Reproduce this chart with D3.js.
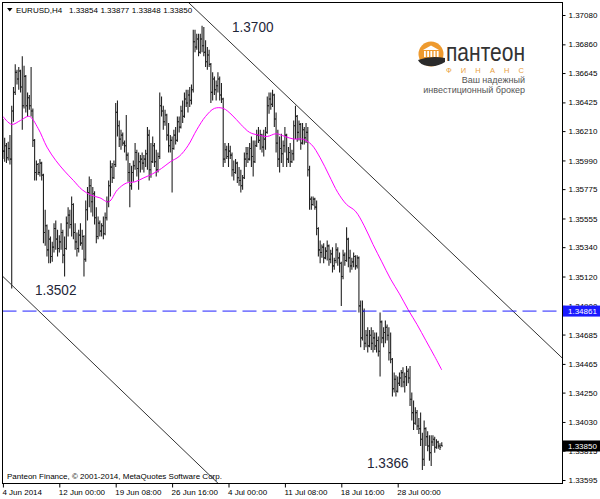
<!DOCTYPE html>
<html><head><meta charset="utf-8">
<script src="https://cdn.jsdelivr.net/npm/d3@7"></script>
<style>
body{margin:0;background:#fff}
svg{display:block}
text{font-family:"Liberation Sans",Arial,sans-serif}
</style>
</head><body>
<svg id="chart" width="600" height="499"></svg>
<script>
// ---- DATA ----
const symbolTitle = "EURUSD,H4";
const lastQuote = ["1.33854","1.33877","1.33848","1.33850"];
const open = [
1.3620,1.3606,1.3610,1.3601,1.3608,1.3600,1.3636,1.3650,1.3665,1.3660,
1.3666,1.3654,1.3640,1.3662,1.3640,1.3646,1.3640,1.3636,1.3614,1.3590,
1.3596,1.3590,1.3597,1.3588,1.3545,1.3550,1.3532,1.3540,1.3527,1.3534,
1.3548,1.3540,1.3533,1.3538,1.3545,1.3528,1.3533,1.3552,1.3558,1.3551,
1.3566,1.3545,1.3538,1.3533,1.3543,1.3537,1.3542,1.3525,1.3562,1.3575,
1.3580,1.3568,1.3574,1.3556,1.3542,1.3552,1.3546,1.3550,1.3544,1.3556,
1.3568,1.3580,1.3594,1.3586,1.3596,1.3635,1.3625,1.3615,1.3618,1.3612,
1.3610,1.3603,1.3590,1.3580,1.3590,1.3595,1.3605,1.3593,1.3598,1.3600,
1.3597,1.3600,1.3604,1.3618,1.3592,1.3598,1.3610,1.3598,1.3592,1.3602,
1.3640,1.3636,1.3628,1.3633,1.3618,1.3610,1.3614,1.3608,1.3618,1.3614,
1.3628,1.3624,1.3636,1.3632,1.3645,1.3642,1.3648,1.3644,1.3652,1.3688,
1.3684,1.3690,1.3680,1.3690,1.3685,1.3680,1.3673,1.3678,1.3671,1.3650,
1.3660,1.3652,1.3655,1.3660,1.3648,1.3645,1.3600,1.3607,1.3602,1.3606,
1.3603,1.3592,1.3590,1.3597,1.3586,1.3584,1.3580,1.3586,1.3600,1.3604,
1.3600,1.3608,1.3602,1.3598,1.3610,1.3618,1.3614,1.3618,1.3609,1.3615,
1.3620,1.3640,1.3645,1.3641,1.3648,1.3630,1.3612,1.3600,1.3608,1.3604,
1.3610,1.3618,1.3600,1.3605,1.3598,1.3604,1.3625,1.3632,1.3620,1.3626,
1.3612,1.3622,1.3616,1.3620,1.3592,1.3570,1.3566,1.3570,1.3564,1.3548,
1.3532,1.3530,1.3534,1.3526,1.3531,1.3535,1.3525,1.3529,1.3520,1.3524,
1.3532,1.3526,1.3522,1.3512,1.3528,1.3524,1.3540,1.3526,1.3520,1.3523,
1.3527,1.3520,1.3526,1.3490,1.3466,1.3486,1.3462,1.3468,1.3460,1.3468,
1.3462,1.3466,1.3460,1.3464,1.3456,1.3478,1.3466,1.3470,1.3474,1.3468,
1.3455,1.3450,1.3428,1.3435,1.3426,1.3432,1.3436,1.3440,1.3433,1.3437,
1.3441,1.3436,1.3420,1.3410,1.3402,1.3410,1.3400,1.3398,1.3390,1.3375,
1.3398,1.3392,1.3385,1.3380,1.3388,1.3390,1.3384,1.3388,1.3385,1.33854];
const high = [
1.3630,1.3616,1.3612,1.3613,1.3618,1.3640,1.3654,1.3671,1.3667,1.3669,
1.3667,1.3677,1.3670,1.3663,1.3650,1.3648,1.3669,1.3638,1.3615,1.3599,
1.3597,1.3600,1.3598,1.3589,1.3562,1.3551,1.3547,1.3542,1.3538,1.3552,
1.3554,1.3547,1.3543,1.3552,1.3547,1.3542,1.3557,1.3564,1.3562,1.3572,
1.3567,1.3552,1.3545,1.3547,1.3552,1.3547,1.3543,1.3569,1.3579,1.3587,
1.3585,1.3579,1.3576,1.3564,1.3557,1.3554,1.3552,1.3557,1.3560,1.3572,
1.3584,1.3599,1.3597,1.3599,1.3642,1.3644,1.3629,1.3622,1.3620,1.3614,
1.3633,1.3605,1.3597,1.3595,1.3599,1.3612,1.3607,1.3605,1.3603,1.3605,
1.3603,1.3607,1.3624,1.3622,1.3612,1.3617,1.3612,1.3607,1.3605,1.3650,
1.3647,1.3640,1.3637,1.3634,1.3627,1.3618,1.3617,1.3622,1.3624,1.3632,
1.3632,1.3640,1.3644,1.3650,1.3652,1.3652,1.3654,1.3656,1.3697,1.3697,
1.3694,1.3694,1.3694,1.3700,1.3699,1.3689,1.3684,1.3682,1.3672,1.3665,
1.3662,1.3659,1.3665,1.3662,1.3657,1.3646,1.3612,1.3610,1.3612,1.3610,
1.3605,1.3599,1.3600,1.3598,1.3594,1.3592,1.3588,1.3605,1.3609,1.3609,
1.3612,1.3617,1.3614,1.3614,1.3622,1.3624,1.3622,1.3619,1.3622,1.3624,
1.3647,1.3650,1.3650,1.3652,1.3649,1.3635,1.3622,1.3617,1.3619,1.3614,
1.3624,1.3619,1.3609,1.3612,1.3607,1.3629,1.3640,1.3633,1.3629,1.3627,
1.3627,1.3624,1.3627,1.3624,1.3595,1.3572,1.3572,1.3571,1.3569,1.3549,
1.3539,1.3536,1.3537,1.3534,1.3539,1.3536,1.3532,1.3534,1.3526,1.3537,
1.3534,1.3530,1.3523,1.3532,1.3530,1.3549,1.3541,1.3532,1.3526,1.3530,
1.3528,1.3528,1.3527,1.3494,1.3494,1.3488,1.3472,1.3474,1.3472,1.3474,
1.3472,1.3470,1.3470,1.3467,1.3485,1.3479,1.3474,1.3479,1.3476,1.3474,
1.3470,1.3451,1.3440,1.3438,1.3437,1.3440,1.3442,1.3444,1.3440,1.3445,
1.3443,1.3445,1.3425,1.3419,1.3414,1.3412,1.3406,1.3410,1.3395,1.3404,
1.3399,1.3396,1.3393,1.3393,1.3393,1.3392,1.3390,1.3389,1.3387,1.33877];
const low = [
1.3600,1.3598,1.3597,1.3599,1.3596,1.3503,1.3628,1.3648,1.3656,1.3652,
1.3650,1.3622,1.3638,1.3635,1.3632,1.3637,1.3632,1.3609,1.3584,1.3584,
1.3588,1.3587,1.3584,1.3537,1.3535,1.3527,1.3522,1.3522,1.3523,1.3530,
1.3532,1.3527,1.3530,1.3532,1.3522,1.3512,1.3532,1.3542,1.3548,1.3542,
1.3540,1.3532,1.3527,1.3530,1.3535,1.3532,1.3512,1.3523,1.3554,1.3564,
1.3560,1.3557,1.3551,1.3537,1.3540,1.3542,1.3542,1.3540,1.3543,1.3554,
1.3564,1.3572,1.3582,1.3585,1.3594,1.3617,1.3609,1.3607,1.3610,1.3605,
1.3599,1.3583,1.3564,1.3577,1.3583,1.3592,1.3587,1.3577,1.3590,1.3592,
1.3590,1.3594,1.3592,1.3584,1.3586,1.3597,1.3594,1.3587,1.3590,1.3600,
1.3632,1.3622,1.3625,1.3614,1.3605,1.3605,1.3575,1.3607,1.3611,1.3613,
1.3620,1.3623,1.3627,1.3631,1.3639,1.3635,1.3639,1.3641,1.3650,1.3680,
1.3682,1.3677,1.3679,1.3680,1.3677,1.3669,1.3667,1.3669,1.3642,1.3644,
1.3648,1.3644,1.3650,1.3644,1.3642,1.3594,1.3597,1.3600,1.3594,1.3600,
1.3587,1.3584,1.3589,1.3582,1.3580,1.3575,1.3577,1.3585,1.3594,1.3597,
1.3599,1.3594,1.3587,1.3597,1.3609,1.3612,1.3607,1.3605,1.3602,1.3607,
1.3619,1.3634,1.3637,1.3639,1.3624,1.3605,1.3594,1.3590,1.3597,1.3594,
1.3605,1.3594,1.3597,1.3594,1.3597,1.3599,1.3615,1.3613,1.3614,1.3607,
1.3611,1.3611,1.3612,1.3587,1.3562,1.3562,1.3565,1.3562,1.3543,1.3527,
1.3522,1.3526,1.3522,1.3525,1.3524,1.3520,1.3522,1.3515,1.3517,1.3522,
1.3520,1.3515,1.3490,1.3510,1.3520,1.3523,1.3519,1.3515,1.3517,1.3519,
1.3517,1.3518,1.3485,1.3459,1.3464,1.3457,1.3459,1.3455,1.3459,1.3457,
1.3455,1.3457,1.3455,1.3452,1.3437,1.3462,1.3459,1.3462,1.3464,1.3449,
1.3447,1.3422,1.3425,1.3422,1.3425,1.3430,1.3429,1.3429,1.3425,1.3430,
1.3432,1.3415,1.3404,1.3397,1.3401,1.3397,1.3394,1.3385,1.3367,1.3370,
1.3385,1.3381,1.3374,1.3370,1.3385,1.3380,1.3383,1.3383,1.3382,1.33848];
const close = [
1.3606,1.3610,1.3601,1.3608,1.3600,1.3636,1.3650,1.3665,1.3660,1.3666,
1.3654,1.3640,1.3662,1.3640,1.3646,1.3640,1.3636,1.3614,1.3590,1.3596,
1.3590,1.3597,1.3588,1.3545,1.3550,1.3532,1.3540,1.3527,1.3534,1.3548,
1.3540,1.3533,1.3538,1.3545,1.3528,1.3533,1.3552,1.3558,1.3551,1.3566,
1.3545,1.3538,1.3533,1.3543,1.3537,1.3542,1.3525,1.3562,1.3575,1.3580,
1.3568,1.3574,1.3556,1.3542,1.3552,1.3546,1.3550,1.3544,1.3556,1.3568,
1.3580,1.3594,1.3586,1.3596,1.3635,1.3625,1.3615,1.3618,1.3612,1.3610,
1.3603,1.3590,1.3580,1.3590,1.3595,1.3605,1.3593,1.3598,1.3600,1.3597,
1.3600,1.3604,1.3618,1.3592,1.3598,1.3610,1.3598,1.3592,1.3602,1.3640,
1.3636,1.3628,1.3633,1.3618,1.3610,1.3614,1.3608,1.3618,1.3614,1.3628,
1.3624,1.3636,1.3632,1.3645,1.3642,1.3648,1.3644,1.3652,1.3688,1.3684,
1.3690,1.3680,1.3690,1.3685,1.3680,1.3673,1.3678,1.3671,1.3650,1.3660,
1.3652,1.3655,1.3660,1.3648,1.3645,1.3600,1.3607,1.3602,1.3606,1.3603,
1.3592,1.3590,1.3597,1.3586,1.3584,1.3580,1.3586,1.3600,1.3604,1.3600,
1.3608,1.3602,1.3598,1.3610,1.3618,1.3614,1.3618,1.3609,1.3615,1.3620,
1.3640,1.3645,1.3641,1.3648,1.3630,1.3612,1.3600,1.3608,1.3604,1.3610,
1.3618,1.3600,1.3605,1.3598,1.3604,1.3625,1.3632,1.3620,1.3626,1.3612,
1.3622,1.3616,1.3620,1.3592,1.3570,1.3566,1.3570,1.3564,1.3548,1.3532,
1.3530,1.3534,1.3526,1.3531,1.3535,1.3525,1.3529,1.3520,1.3524,1.3532,
1.3526,1.3522,1.3512,1.3528,1.3524,1.3540,1.3526,1.3520,1.3523,1.3527,
1.3520,1.3526,1.3490,1.3466,1.3486,1.3462,1.3468,1.3460,1.3468,1.3462,
1.3466,1.3460,1.3464,1.3456,1.3478,1.3466,1.3470,1.3474,1.3468,1.3455,
1.3450,1.3428,1.3435,1.3426,1.3432,1.3436,1.3440,1.3433,1.3437,1.3441,
1.3436,1.3420,1.3410,1.3402,1.3410,1.3400,1.3398,1.3390,1.3375,1.3398,
1.3392,1.3385,1.3380,1.3388,1.3390,1.3384,1.3388,1.3385,1.3384,1.33850];

// moving average (bar index, price)
const maIndex = [0,5,10,15,20,25,30,35,40,45,50,55,60,65,70,75,80,85,90,95,100,105,110,115,120,125,130,135,140,145,150,155,160,165,170,175,180,185,190,195,200,205,210,215,220,225,230,235,240,245,249];
const maValue = [1.3632,1.3626,1.3629,1.3632,1.3623,1.3609,1.3599,1.3591,1.3584,1.3577,1.3573,1.3571,1.3568,1.3577,1.3582,1.3583,1.3586,1.3589,1.3593,1.3598,1.3602,1.3610,1.3622,1.3632,1.3638,1.3638,1.3633,1.3626,1.3620,1.3618,1.3617,1.3619,1.3617,1.3615,1.3615,1.3611,1.3601,1.3588,1.3575,1.3566,1.3561,1.3550,1.3536,1.3523,1.3510,1.3499,1.3487,1.3476,1.3464,1.3452,1.3442];

// time axis
const xTickIndex = [0,32,64,96,128,160,192,224];
const xTickLabels = ["4 Jun 2014","12 Jun 00:00","19 Jun 08:00","26 Jun 16:00","4 Jul 00:00","11 Jul 08:00","18 Jul 16:00","28 Jul 00:00"];
// price axis
const yTicks = [1.37080,1.36860,1.36645,1.36425,1.36210,1.35990,1.35775,1.35555,1.35340,1.35120,1.34900,1.34685,1.34465,1.34250,1.34030,1.33815,1.33595];

// objects
const levelPrice = 1.34861;
const lastPrice = 1.33850;
const upperTrend = [[111.7,1.37093],[316.8,1.34516]];
const lowerTrend = [[0,1.35120],[111.7,1.33702]];
const noteIndex = [130.0, 18.2, 206.6];
const notePrice = [1.36955, 1.34983, 1.33683];
const noteText = ["1.3700","1.3502","1.3366"];

// ---- DRAW ----
const svg = d3.select("#chart");
const W = 600, H = 499;
const plot = {l:2.5, t:2.5, r:562.5, b:483.5};

const x = d3.scaleLinear().domain([32,224]).range([59.3,397.7]);
const y = d3.scaleLinear().domain([1.33595,1.37080]).range([480,15]);

svg.append("rect").attr("width",W).attr("height",H).attr("fill","#fff");

svg.append("clipPath").attr("id","clip").append("rect")
  .attr("x",plot.l).attr("y",plot.t).attr("width",plot.r-plot.l).attr("height",plot.b-plot.t);

// logo (background decoration)
const logo = svg.append("g");
logo.append("circle").attr("cx",431).attr("cy",54).attr("r",12.5).attr("fill","#ee9a2e");
logo.append("path").attr("d","M423,50 L431,45.5 L439,50 Z").attr("fill","#fff");
d3.range(5).forEach(k=>{
  logo.append("rect").attr("x",424+k*3.2).attr("y",51).attr("width",1.8).attr("height",6).attr("fill","#fff");
});
logo.append("path").attr("d","M418,60 Q431,55 445,58 L445,62 Q438,67 428,66 Q420,65 418,60 Z").attr("fill","#2b2b2b");
logo.append("text").attr("x",446).attr("y",61).attr("font-size",25).attr("fill","#333")
  .attr("textLength",79).attr("lengthAdjust","spacingAndGlyphs").text("пантеон");
logo.append("text").attr("x",446).attr("y",73).attr("font-size",7.5).attr("fill","#e8a040")
  .attr("font-family","Liberation Serif, serif")
  .attr("textLength",78).attr("lengthAdjust","spacing").text("ФИНАНС");
logo.append("text").attr("x",525).attr("y",83).attr("font-size",9).attr("fill","#555").attr("text-anchor","end")
  .attr("font-family","Liberation Serif, serif").text("Ваш надежный");
logo.append("text").attr("x",525).attr("y",93).attr("font-size",9).attr("fill","#555").attr("text-anchor","end")
  .attr("font-family","Liberation Serif, serif").text("инвестиционный брокер");

const g = svg.append("g").attr("clip-path","url(#clip)");

// bars
const bars = d3.range(high.length).map(i=>({
  i, o:open[i], c:close[i],
  h:Math.max(high[i],open[i],close[i]), l:Math.min(low[i],open[i],close[i])
}));
g.append("g").selectAll("path").data(bars).join("path")
  .attr("d", d=>{const X=x(d.i);
    return `M${X},${y(d.h)}V${y(d.l)}M${X-1.2},${y(d.o)}H${X}M${X},${y(d.c)}H${X+1.2}`;})
  .attr("fill","none").attr("stroke","#222").attr("stroke-width",1.1);

// moving average
const ma = maIndex.map((d,k)=>[d,maValue[k]]);
g.append("path").datum(ma)
  .attr("d", d3.line().x(d=>x(d[0])).y(d=>y(d[1])).curve(d3.curveCatmullRom))
  .attr("fill","none").attr("stroke","#ff00ff").attr("stroke-width",1);

// trend lines (extended both ways, clipped)
function extend(pts, i0, i1){
  const [a,b]=pts; const s=(b[1]-a[1])/(b[0]-a[0]);
  return [[i0, a[1]+s*(i0-a[0])],[i1, a[1]+s*(i1-a[0])]];
}
[upperTrend, lowerTrend].forEach(t=>{
  const e = extend(t,-20,340);
  g.append("line").attr("x1",x(e[0][0])).attr("y1",y(e[0][1])).attr("x2",x(e[1][0])).attr("y2",y(e[1][1]))
   .attr("stroke","#333").attr("stroke-width",1);
});

// horizontal level
g.append("line").attr("x1",plot.l).attr("x2",plot.r).attr("y1",y(levelPrice)).attr("y2",y(levelPrice))
  .attr("stroke","#2020ff").attr("stroke-width",1).attr("stroke-dasharray","14,6");

// notes
noteText.forEach((t,k)=>{
  g.append("text").attr("x",x(noteIndex[k])).attr("y",y(notePrice[k]))
   .attr("font-size",15.5).attr("fill","#1e2638")
   .attr("textLength",41.5).attr("lengthAdjust","spacingAndGlyphs").text(t);
});

// frame
svg.append("rect").attr("x",plot.l).attr("y",plot.t).attr("width",plot.r-plot.l).attr("height",plot.b-plot.t)
  .attr("fill","none").attr("stroke","#000").attr("stroke-width",1).attr("shape-rendering","crispEdges");

// y axis
const yAxis = svg.append("g").attr("transform",`translate(${plot.r},0)`)
  .call(d3.axisRight(y).tickValues(yTicks).tickFormat(d3.format(".5f")).tickSize(3).tickPadding(3));
yAxis.select(".domain").remove();
yAxis.selectAll("text").attr("font-size",8).attr("font-family","Liberation Sans, Arial, sans-serif").attr("fill","#000");
yAxis.selectAll("line").attr("stroke","#000");

// x axis
const xAxis = svg.append("g").attr("transform",`translate(0,${plot.b})`)
  .call(d3.axisBottom(x).tickValues(xTickIndex).tickFormat((d,k)=>xTickLabels[k]).tickSize(4).tickPadding(2));
xAxis.select(".domain").remove();
xAxis.selectAll("text").attr("font-size",8).attr("font-family","Liberation Sans, Arial, sans-serif")
  .attr("fill","#000").attr("text-anchor","start").attr("dx",-1);
xAxis.selectAll("line").attr("stroke","#000");

// price labels (cover the axis labels behind them, as in the terminal)
function priceTag(p, bg){
  const yy = y(p);
  svg.append("rect").attr("x",563).attr("y",yy-5.5).attr("width",37).attr("height",11).attr("fill",bg);
  svg.append("text").attr("x",568).attr("y",yy).attr("dy","0.33em").attr("font-size",8)
    .attr("fill","#fff").text(d3.format(".5f")(p));
}
priceTag(levelPrice,"#1a1aff");
priceTag(lastPrice,"#000");

// header
svg.append("path").attr("d","M7,8 L12.5,8 L9.75,11.5 Z").attr("fill","#000");
svg.append("text").attr("x",16).attr("y",13).attr("font-size",8).attr("fill","#000")
  .text(symbolTitle);
lastQuote.forEach((q,k)=>{
  svg.append("text").attr("x",69+k*31.4).attr("y",13).attr("font-size",8).attr("fill","#000").text(q);
});

// copyright
svg.append("text").attr("x",7).attr("y",479).attr("font-size",8).attr("fill","#000")
  .text("Panteon Finance, © 2001-2014, MetaQuotes Software Corp.");
</script>
</body></html>
